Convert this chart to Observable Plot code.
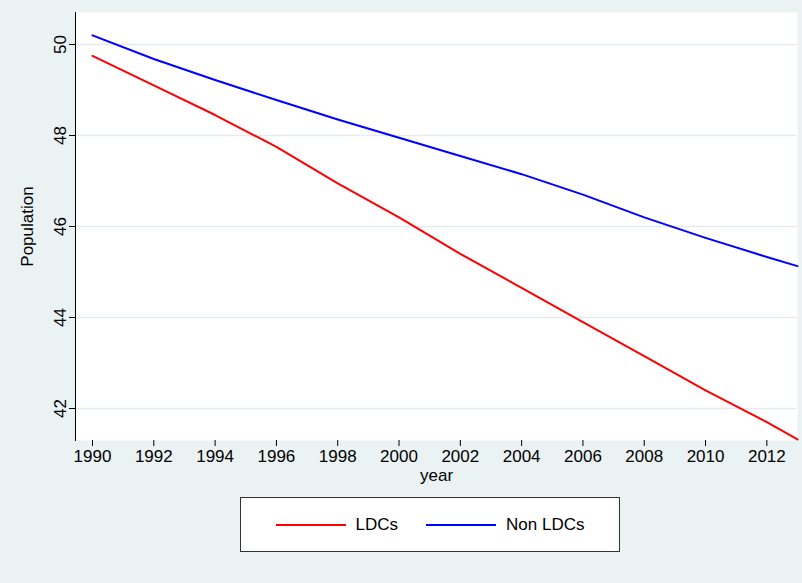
<!DOCTYPE html>
<html><head><meta charset="utf-8">
<script src="https://cdn.jsdelivr.net/npm/d3@7"></script>
<script src="https://cdn.jsdelivr.net/npm/@observablehq/plot@0.6"></script>
<style>
body{margin:0;background:#eaf2f3;font-family:Arial,"Liberation Sans",sans-serif;}
#wrap{position:relative;width:802px;height:583px;}
#legend{position:absolute;left:240px;top:497px;width:380px;height:55px;background:#fff;border:1px solid #333;box-sizing:border-box;display:flex;align-items:center;justify-content:center;font-size:17px;gap:0}
.it{display:flex;align-items:center;margin:0 8px}
.sw{width:70px;height:2px;margin-right:10px}
</style></head><body>
<div id="wrap"><div id="chart"></div>
<div id="legend"><div class="it"><div class="sw" style="background:#ff0000"></div>LDCs</div><div class="it" style="margin-left:20px"><div class="sw" style="background:#0000ff"></div>Non LDCs</div></div>
</div>
<script>
const years=[1990,1992,1994,1996,1998,2000,2002,2004,2006,2008,2010,2012,2013];
const ldcs=[49.75,49.1,48.45,47.75,46.95,46.2,45.4,44.65,43.9,43.15,42.4,41.7,41.32];
const nonLdcs=[50.2,49.68,49.22,48.78,48.35,47.95,47.55,47.15,46.7,46.2,45.75,45.33,45.13];
const xTicks=[1990,1992,1994,1996,1998,2000,2002,2004,2006,2008,2010,2012];
const yTicks=[42,44,46,48,50];
const data=[...years.map((y,i)=>({year:y,v:ldcs[i],s:"LDCs"})),...years.map((y,i)=>({year:y,v:nonLdcs[i],s:"Non LDCs"}))];
const chart=Plot.plot({
 width:802,height:490,marginLeft:75,marginRight:5,marginTop:12,marginBottom:50,
 style:{background:"transparent",fontSize:"17px",fontFamily:"Arial, Liberation Sans, sans-serif",color:"#000"},
 x:{domain:[1990,2013],range:[92,797]},
 y:{domain:[41.297,50.703],range:[440,12]},
 marks:[
  Plot.frame({fill:"white",stroke:null}),
  Plot.gridY(yTicks,{stroke:"#e4ecee",strokeOpacity:1,strokeWidth:1.5}),
  Plot.axisY({ticks:yTicks,tickRotate:-90,tickSize:6,tickPadding:4,label:"Population",labelAnchor:"center",labelArrow:"none",labelOffset:55,fill:"#000"}),
  Plot.frame({anchor:"left",stroke:"#000"}),
  Plot.axisX({ticks:xTicks,tickFormat:d=>String(d),tickSize:6,tickPadding:3,label:"year",labelAnchor:"center",labelArrow:"none",labelOffset:40,fill:"#000"}),
  Plot.line(data,{x:"year",y:"v",z:"s",stroke:d=>d.s==="LDCs"?"#ff0000":"#0000ff",strokeWidth:2})
 ]
});
document.getElementById("chart").appendChild(chart);
</script></body></html>
